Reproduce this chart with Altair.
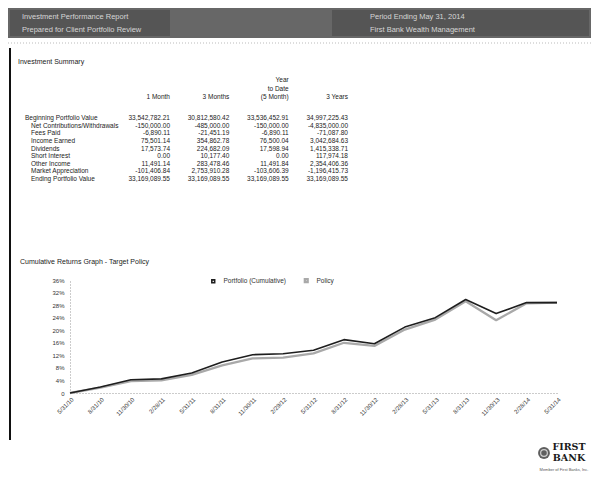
import altair as alt
import pandas as pd

FONT = "Liberation Sans"

# ---------------- data ----------------
dates = ["5/31/10", "8/31/10", "11/30/10", "2/28/11", "5/31/11", "8/31/11",
         "11/30/11", "2/29/12", "5/31/12", "8/31/12", "11/30/12", "2/28/13",
         "5/31/13", "8/31/13", "11/30/13", "2/28/14", "5/31/14"]
portfolio = [0.0, 1.9, 4.2, 4.5, 6.4, 9.9, 12.2, 12.5, 13.6, 17.0, 15.7,
             21.0, 24.0, 29.8, 25.3, 28.8, 28.8]
policy = [0.0, 1.7, 3.8, 4.0, 5.8, 8.8, 11.0, 11.3, 12.6, 16.0, 15.0,
          20.2, 23.4, 29.2, 23.2, 28.6, 28.8]
series_names = ["Portfolio (Cumulative)", "Policy"]
y_ticks = [0, 4, 8, 12, 16, 20, 24, 28, 32, 36]

row_labels = ["Beginning Portfolio Value", "Net Contributions/Withdrawals",
              "Fees Paid", "Income Earned", "Dividends", "Short Interest",
              "Other Income", "Market Appreciation", "Ending Portfolio Value"]
col_headers = ["1 Month", "3 Months", "(5 Month)", "3 Years"]
one_month = ["33,542,782.21", "-150,000.00", "-6,890.11", "75,501.14",
             "17,573.74", "0.00", "11,491.14", "-101,406.84", "33,169,089.55"]
three_months = ["30,812,580.42", "-485,000.00", "-21,451.19", "354,862.78",
                "224,682.09", "10,177.40", "283,478.46", "2,753,910.28",
                "33,169,089.55"]
year_to_date = ["33,536,452.91", "-150,000.00", "-6,890.11", "76,500.04",
                "17,598.94", "0.00", "11,491.84", "-103,606.39",
                "33,169,089.55"]
three_years = ["34,997,225.43", "-4,835,000.00", "-71,087.80",
               "3,042,684.63", "1,415,338.71", "117,974.18", "2,354,406.36",
               "-1,196,415.73", "33,169,089.55"]

# ---------------- line chart ----------------
df_lines = pd.DataFrame({
    "Date": dates * 2,
    "Return": policy + portfolio,
    "Series": ["Policy"] * len(dates) + ["Portfolio (Cumulative)"] * len(dates),
})

lines = alt.Chart(df_lines).mark_line(strokeJoin="round").encode(
    x=alt.X("Date:N", sort=dates,
            scale=alt.Scale(type="point", padding=0),
            axis=alt.Axis(title=None, labelAngle=-45, labelFontSize=6,
                          labelColor="#333", ticks=False, domainDash=[1, 2],
                          domainColor="#999", labelPadding=3, grid=False,
                          labelFont=FONT)),
    y=alt.Y("Return:Q", scale=alt.Scale(domain=[0, 36], nice=False),
            axis=alt.Axis(title=None, values=y_ticks,
                          labelExpr="datum.value == 0 ? '0' : datum.value + '%'",
                          labelFontSize=6, labelColor="#333", ticks=False,
                          domainDash=[1, 2], domainColor="#999",
                          labelPadding=6, grid=False, labelFont=FONT)),
    color=alt.Color("Series:N",
                    scale=alt.Scale(domain=series_names,
                                    range=["#1e1e1e", "#a9a9a9"]),
                    legend=alt.Legend(title=None, orient="none",
                                      direction="horizontal", legendX=140,
                                      legendY=-3, symbolType="square",
                                      symbolSize=8, symbolStrokeWidth=4,
                                      labelFontSize=6.5, labelFont=FONT,
                                      labelColor="#333", columnPadding=14,
                                      padding=0, labelOffset=7)),
    strokeWidth=alt.StrokeWidth("Series:N",
                                scale=alt.Scale(domain=series_names,
                                                range=[1.6, 2.3]),
                                legend=None),
)

# ---------------- table ----------------
df_labels = pd.DataFrame({
    "row": list(range(len(row_labels))),
    "label": row_labels,
    "indent": [0] + [1] * (len(row_labels) - 1),
})
row_scale = alt.Scale(domain=[0, len(row_labels) - 1], range=[-162, -101],
                      nice=False, zero=False)

table_labels = alt.Chart(df_labels).mark_text(
    align="left", baseline="middle", fontSize=6.5, font=FONT, color="#222"
).encode(
    x=alt.X("indent:Q", scale=alt.Scale(domain=[0, 1], range=[-45, -39],
                                        nice=False, zero=False), axis=None),
    y=alt.Y("row:Q", scale=row_scale, axis=None),
    text="label:N",
)

cols = [one_month, three_months, year_to_date, three_years]
recs = []
for ci, col in enumerate(cols):
    for ri, v in enumerate(col):
        recs.append({"col": ci, "row": ri, "val": v})
df_vals = pd.DataFrame(recs)
col_scale = alt.Scale(domain=[0, 3], range=[100, 278], nice=False, zero=False)

table_values = alt.Chart(df_vals).mark_text(
    align="right", baseline="middle", fontSize=6.5, font=FONT, color="#222"
).encode(
    x=alt.X("col:Q", scale=col_scale, axis=None),
    y=alt.Y("row:Q", scale=row_scale, axis=None),
    text="val:N",
)

df_head = pd.DataFrame({
    "col": [0, 1, 2, 2, 2, 3],
    "line": [2, 2, 0, 1, 2, 2],
    "txt": [col_headers[0], col_headers[1], "Year", "to Date",
            col_headers[2], col_headers[3]],
})
table_head = alt.Chart(df_head).mark_text(
    align="right", baseline="middle", fontSize=6.5, font=FONT, color="#222"
).encode(
    x=alt.X("col:Q", scale=col_scale, axis=None),
    y=alt.Y("line:Q", scale=alt.Scale(domain=[0, 2], range=[-200, -183],
                                      nice=False, zero=False), axis=None),
    text="txt:N",
)

# ---------------- page decorations ----------------
one = pd.DataFrame({"a": [0]})
base = alt.Chart(one)

banner = base.mark_rect(color="#676767").encode(
    x=alt.value(-62), x2=alt.value(521), y=alt.value(-272), y2=alt.value(-242))
banner_dark_l = base.mark_rect(color="#4e4e4e", opacity=0.7).encode(
    x=alt.value(-60), x2=alt.value(100), y=alt.value(-270), y2=alt.value(-244))
banner_dark_r = base.mark_rect(color="#4e4e4e", opacity=0.7).encode(
    x=alt.value(262), x2=alt.value(519), y=alt.value(-270), y2=alt.value(-244))

banner_text = alt.Chart(pd.DataFrame({
    "t": ["Investment Performance Report", "Prepared for Client Portfolio Review",
          "Period Ending May 31, 2014", "First Bank Wealth Management"],
    "px": [-48, -48, 300, 300],
    "py": [-263, -250, -263, -250],
})).mark_text(align="left", baseline="middle", fontSize=7.5, font=FONT,
              color="#d6d6d6").encode(
    x=alt.X("px:Q", scale=None), y=alt.Y("py:Q", scale=None), text="t:N")

sep_line = base.mark_rule(color="#bbbbbb", strokeDash=[1, 2]).encode(
    x=alt.value(-62), x2=alt.value(521), y=alt.value(-237))
left_border = base.mark_rule(color="#111", strokeWidth=2).encode(
    x=alt.value(-60), y=alt.value(-232), y2=alt.value(160))

titles = alt.Chart(pd.DataFrame({
    "t": ["Investment Summary", "Cumulative Returns Graph - Target Policy"],
    "px": [-52, -50],
    "py": [-218, -18],
})).mark_text(align="left", baseline="middle", fontSize=7, font=FONT,
              color="#222").encode(
    x=alt.X("px:Q", scale=None), y=alt.Y("py:Q", scale=None), text="t:N")

logo_circle = base.mark_point(shape="circle", filled=True, color="#1a1a1a",
                              size=140).encode(x=alt.value(474), y=alt.value(173))
logo_ring = base.mark_point(shape="circle", filled=False, color="#ffffff",
                            size=45, strokeWidth=1.2).encode(
    x=alt.value(474), y=alt.value(173))
logo_text = alt.Chart(pd.DataFrame({
    "t": ["FIRST", "BANK"],
    "px": [499, 499],
    "py": [167, 178],
})).mark_text(align="center", baseline="middle", fontSize=9.5,
              font="DejaVu Serif", fontWeight="bold", color="#1a1a1a").encode(
    x=alt.X("px:Q", scale=None), y=alt.Y("py:Q", scale=None), text="t:N")
logo_tag = base.mark_text(align="center", baseline="middle", fontSize=4,
                          font=FONT, color="#555",
                          text="Member of First Banks, Inc.").encode(
    x=alt.value(494), y=alt.value(190))

chart = alt.layer(
    banner, banner_dark_l, banner_dark_r, banner_text, sep_line, left_border,
    titles, table_head, table_labels, table_values, lines,
    logo_circle, logo_ring, logo_text, logo_tag,
).resolve_scale(
    x="independent", y="independent"
).properties(
    width=487, height=113,
    padding={"left": 62, "top": 272, "right": 34, "bottom": 79},
    autosize=alt.AutoSizeParams(type="none"),
    background="#ffffff",
).configure_view(stroke=None)

chart.save("out.html", embed_options={"renderer": "svg", "actions": False})
